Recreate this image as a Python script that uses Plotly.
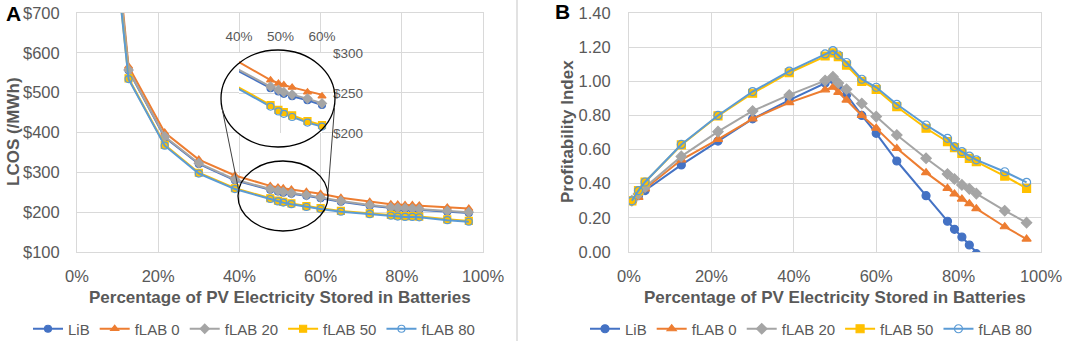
import plotly.graph_objects as go

# ---------------- data ----------------
pct_stored = [0.7, 2.3, 3.9, 12.7, 21.6, 30.0, 38.9, 47.6, 49.5, 50.8, 52.8, 56.5,
              60.0, 65.0, 72.1, 77.3, 79.0, 80.8, 82.6, 84.3, 91.2, 96.5]
series_names = ["LiB", "fLAB 0", "fLAB 20", "fLAB 50", "fLAB 80"]

# Panel A: LCOS ($/MWh)
lcos_lib    = [6850, 2520, 1430, 556, 388, 321, 280, 256, 252, 249, 246, 241, 235, 226, 216, 210, 209, 208, 207, 206, 201, 198]
lcos_flab0  = [7000, 2600, 1480, 566, 400, 332, 292, 266, 262, 260, 257, 251, 246, 236, 226, 220, 219, 218, 218, 217, 212, 209]
lcos_flab20 = [6900, 2550, 1450, 557, 390, 323, 282, 258, 254, 251, 248, 243, 237, 228, 218, 212, 211, 210, 209, 208, 203, 200]
lcos_flab50 = [6700, 2450, 1400, 536, 369, 299, 260, 235, 229, 226, 222, 215, 210, 203, 197, 193, 191, 190, 190, 189, 182, 178]
lcos_flab80 = [6650, 2430, 1390, 534, 367, 297, 258, 233, 227, 224, 220, 213, 208, 201, 195, 191, 189, 188, 188, 187, 180, 176]

# Panel B: Profitability Index
pi_lib    = [0.30, 0.33, 0.36, 0.51, 0.65, 0.78, 0.89, 0.99, 1.01, 0.975, 0.92, 0.80, 0.695, 0.533, 0.33, 0.18, 0.133, 0.088, 0.041, -0.01, -0.18, -0.31]
pi_flab0  = [0.30, 0.32, 0.37, 0.54, 0.66, 0.78, 0.875, 0.95, 0.965, 0.935, 0.89, 0.80, 0.725, 0.607, 0.465, 0.373, 0.34, 0.31, 0.283, 0.254, 0.148, 0.076]
pi_flab20 = [0.30, 0.34, 0.38, 0.56, 0.705, 0.826, 0.92, 1.004, 1.027, 0.99, 0.953, 0.87, 0.793, 0.685, 0.549, 0.457, 0.428, 0.393, 0.37, 0.342, 0.242, 0.172]
pi_flab50 = [0.30, 0.36, 0.41, 0.627, 0.797, 0.93, 1.05, 1.148, 1.167, 1.144, 1.095, 1.0, 0.953, 0.851, 0.725, 0.646, 0.611, 0.578, 0.549, 0.529, 0.445, 0.373]
pi_flab80 = [0.30, 0.36, 0.41, 0.63, 0.80, 0.94, 1.06, 1.16, 1.18, 1.154, 1.11, 1.012, 0.965, 0.865, 0.744, 0.666, 0.617, 0.588, 0.562, 0.54, 0.47, 0.408]

lcos_all = [lcos_lib, lcos_flab0, lcos_flab20, lcos_flab50, lcos_flab80]
pi_all = [pi_lib, pi_flab0, pi_flab20, pi_flab50, pi_flab80]

colors = ["#4472C4", "#ED7D31", "#A5A5A5", "#FFC000", "#5B9BD5"]
symbols = ["circle", "triangle-up", "diamond", "square", "circle-open"]

W, H = 1065, 341
FONT = "Liberation Sans, Arial, sans-serif"
GRAY = "#595959"
GRID = "#D9D9D9"


def px(x):
    return x / W


def py(y):
    return 1 - y / H


fig = go.Figure()

# Panel A main
for name, ys, c, s in zip(series_names, lcos_all, colors, symbols):
    fig.add_trace(go.Scatter(
        x=pct_stored, y=ys, name=name, mode="lines+markers",
        line=dict(color=c, width=2),
        marker=dict(symbol=s, size=7, color=c, line=dict(color=c, width=1.2)),
        xaxis="x", yaxis="y", legend="legend"))

# Panel A inset (zoom of 40%-60%)
for name, ys, c, s in zip(series_names, lcos_all, colors, symbols):
    fig.add_trace(go.Scatter(
        x=pct_stored, y=ys, mode="lines", showlegend=False,
        line=dict(color=c, width=2), xaxis="x3", yaxis="y3", hoverinfo="skip"))
for name, ys, c, s in zip(series_names, lcos_all, colors, symbols):
    xs = [x for x in pct_stored if 40 <= x <= 60]
    yy = [y for x, y in zip(pct_stored, ys) if 40 <= x <= 60]
    fig.add_trace(go.Scatter(
        x=xs, y=yy, mode="markers", showlegend=False, cliponaxis=False,
        marker=dict(symbol=s, size=7, color=c, line=dict(color=c, width=1.2)),
        xaxis="x3", yaxis="y3"))

# Panel B
for name, ys, c, s in zip(series_names, pi_all, colors, symbols):
    fig.add_trace(go.Scatter(
        x=pct_stored, y=ys, name=name, mode="lines+markers",
        line=dict(color=c, width=2),
        marker=dict(symbol=s, size=8, color=c, line=dict(color=c, width=1.2)),
        xaxis="x2", yaxis="y2", legend="legend2"))

tick_font = dict(family=FONT, size=16.5, color=GRAY)
inset_font = dict(family=FONT, size=13.5, color=GRAY)

common_x = dict(range=[0, 100], dtick=20, ticksuffix="%", showgrid=True, gridcolor=GRID,
                gridwidth=1, zeroline=False, showline=True, mirror=True, linecolor=GRID,
                tickfont=tick_font, ticks="", ticklabelstandoff=9, automargin=False,
                fixedrange=True)

fig.update_layout(
    width=W, height=H,
    margin=dict(l=0, r=0, t=0, b=0, autoexpand=False),
    paper_bgcolor="white", plot_bgcolor="white",
    font=dict(family=FONT, color=GRAY),
    xaxis=dict(domain=[px(77), px(483)], anchor="y", **common_x),
    yaxis=dict(domain=[py(252), py(13)], anchor="x", range=[100, 700], dtick=100,
               tickprefix="$", showgrid=True, gridcolor=GRID, zeroline=False,
               showline=True, mirror=True, linecolor=GRID, tickfont=tick_font,
               ticks="", ticklabelstandoff=13, automargin=False),
    xaxis2=dict(domain=[px(629), px(1041)], anchor="y2", **common_x),
    yaxis2=dict(domain=[py(252), py(13)], anchor="x2", range=[0, 1.4], dtick=0.2,
                tickformat=".2f", showgrid=True, gridcolor=GRID, zeroline=False,
                showline=True, mirror=True, linecolor=GRID, tickfont=tick_font,
                ticks="", ticklabelstandoff=14, automargin=False),
    xaxis3=dict(domain=[px(239), px(322)], anchor="y3", range=[40, 60], dtick=10,
                ticksuffix="%", side="top", showgrid=True, gridcolor=GRID, zeroline=False,
                showline=False, tickfont=inset_font, ticks="", ticklabelstandoff=8,
                automargin=False),
    yaxis3=dict(domain=[py(133), py(53)], anchor="x3", range=[200, 300], dtick=50,
                tickprefix="$", side="right", showgrid=True, gridcolor=GRID, zeroline=False,
                showline=False, tickfont=inset_font, ticks="", ticklabelstandoff=10,
                automargin=False),
    legend=dict(orientation="h", x=px(254), y=py(329), xanchor="center", yanchor="middle",
                font=dict(family=FONT, size=15, color=GRAY), itemwidth=30,
                bgcolor="rgba(0,0,0,0)"),
    legend2=dict(orientation="h", x=px(811), y=py(329), xanchor="center", yanchor="middle",
                 font=dict(family=FONT, size=15, color=GRAY), itemwidth=30,
                 bgcolor="rgba(0,0,0,0)"),
    showlegend=True,
)

annotations = [
    dict(text="<b>A</b>", x=px(13), y=py(14), font=dict(family=FONT, size=21, color="black")),
    dict(text="<b>B</b>", x=px(562), y=py(12), font=dict(family=FONT, size=21, color="black")),
    dict(text="<b>LCOS (/MWh)</b>", x=px(13), y=py(132), textangle=-90,
         font=dict(family=FONT, size=17, color=GRAY)),
    dict(text="<b>Profitability Index</b>", x=px(567), y=py(132), textangle=-90,
         font=dict(family=FONT, size=17, color=GRAY)),
    dict(text="<b>Percentage of PV Electricity Stored in Batteries</b>", x=px(280), y=py(297),
         font=dict(family=FONT, size=17, color=GRAY)),
    dict(text="<b>Percentage of PV Electricity Stored in Batteries</b>", x=px(835), y=py(297),
         font=dict(family=FONT, size=17, color=GRAY)),
]
for a in annotations:
    a.update(xref="paper", yref="paper", showarrow=False, xanchor="center", yanchor="middle")
fig.update_layout(annotations=annotations)

shapes = [
    dict(type="line", x0=px(517), x1=px(517), y0=0, y1=1, line=dict(color=GRID, width=1.5)),
    dict(type="circle", x0=px(221), x1=px(335), y0=py(147), y1=py(50),
         line=dict(color="black", width=1.3)),
    dict(type="circle", x0=px(238), x1=px(328), y0=py(231), y1=py(161),
         line=dict(color="black", width=1.3)),
    dict(type="line", x0=px(222), x1=px(239), y0=py(108), y1=py(192),
         line=dict(color="#404040", width=1)),
    dict(type="line", x0=px(334.5), x1=px(328), y0=py(108), y1=py(192),
         line=dict(color="#404040", width=1)),
]
for s in shapes:
    s.update(xref="paper", yref="paper")
fig.update_layout(shapes=shapes)

fig.write_html(
    "out.html",
    config={"displayModeBar": False},
    post_script="document.body.style.margin='0px';document.body.style.padding='0px';",
)
